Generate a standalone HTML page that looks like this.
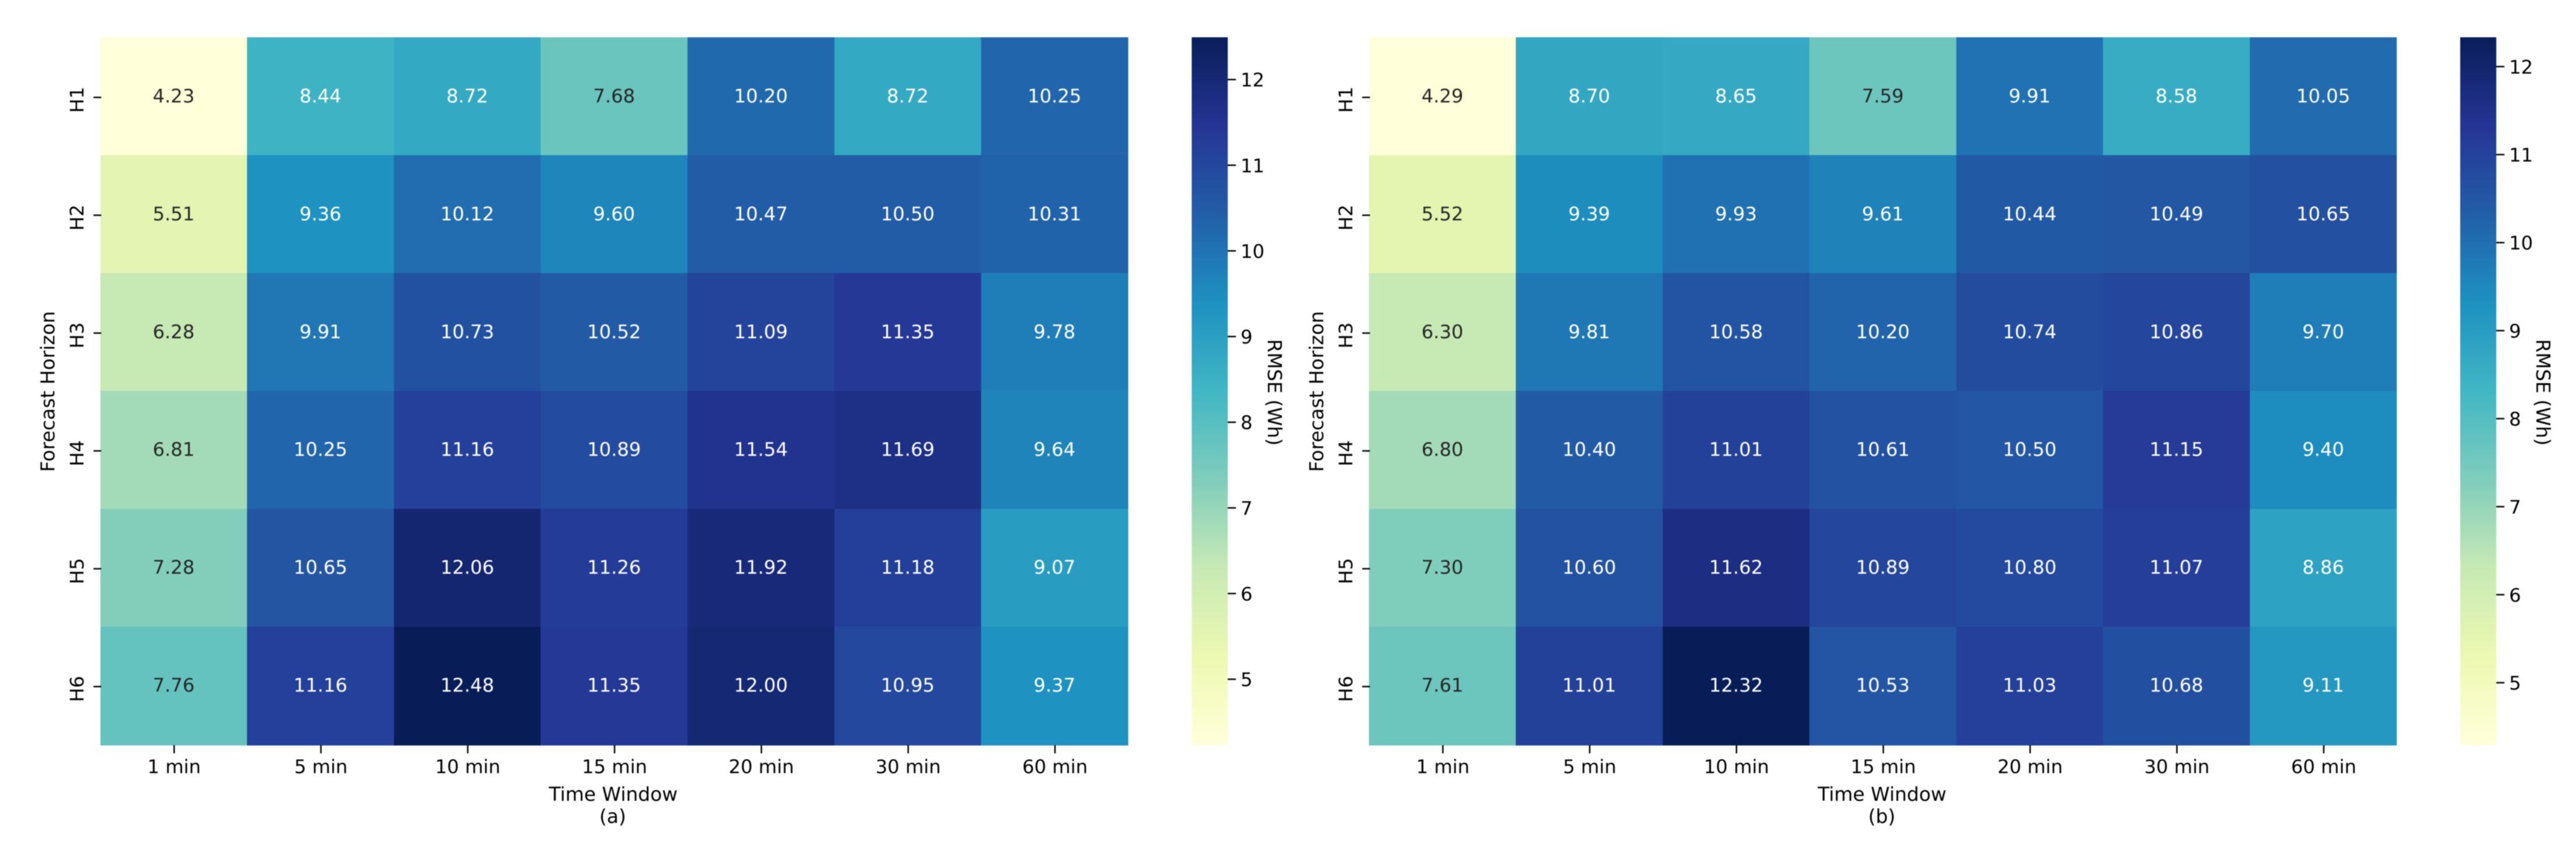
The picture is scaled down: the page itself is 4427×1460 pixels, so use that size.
<!DOCTYPE html>
<html lang="en">
<head>
<meta charset="utf-8">
<title>RMSE heatmaps by forecast horizon and time window</title>
<style>
html,body{margin:0;padding:0;background:#fff;}
svg{display:block;filter:blur(.7px);}
text{font-family:"DejaVu Sans","Liberation Sans",sans-serif;font-size:32.3px;fill:#000;}
text.axis-title{font-size:33px;}
</style>
</head>
<body>
<svg id="chart" xmlns="http://www.w3.org/2000/svg" width="4427" height="1460" viewBox="0 0 4427 1460">
<defs>
<linearGradient id="ylgnbu" x1="0" y1="1" x2="0" y2="0">
<stop offset="0" stop-color="#ffffd9"/><stop offset=".125" stop-color="#edf8b1"/><stop offset=".25" stop-color="#c7e9b4"/><stop offset=".375" stop-color="#7fcdbb"/><stop offset=".5" stop-color="#41b6c4"/><stop offset=".625" stop-color="#1d91c0"/><stop offset=".75" stop-color="#225ea8"/><stop offset=".875" stop-color="#253494"/><stop offset="1" stop-color="#081d58"/>
</linearGradient>
</defs>
<rect x="0" y="0" width="4427" height="1460" fill="#fff"/>
<g id="panel-a">
<rect x="2048" y="64" width="62" height="1216" fill="url(#ylgnbu)"/>
<text class="axis-title" x="93.3" y="672.5" text-anchor="middle" transform="rotate(-90 93.3 672.5)">Forecast Horizon</text>
<text class="axis-title" x="1054" y="1375.5" text-anchor="middle">Time Window</text>
<text class="axis-title" x="1053" y="1413.5" text-anchor="middle">(a)</text>
<text class="axis-title" x="2179" y="674" text-anchor="middle" transform="rotate(90 2179 674)">RMSE (Wh)</text>
</g>
<g id="panel-b">
<rect x="4228" y="64" width="62" height="1216" fill="url(#ylgnbu)"/>
<text class="axis-title" x="2274" y="672.5" text-anchor="middle" transform="rotate(-90 2274 672.5)">Forecast Horizon</text>
<text class="axis-title" x="3234.5" y="1375.5" text-anchor="middle">Time Window</text>
<text class="axis-title" x="3234" y="1413.5" text-anchor="middle">(b)</text>
<text class="axis-title" x="4359" y="674" text-anchor="middle" transform="rotate(90 4359 674)">RMSE (Wh)</text>
</g>
</svg>
<script>
const timeWindows = ["1 min", "5 min", "10 min", "15 min", "20 min", "30 min", "60 min"];
const horizons = ["H1", "H2", "H3", "H4", "H5", "H6"];
const colorbarTicks = [5, 6, 7, 8, 9, 10, 11, 12];
const rmseA = [
  [4.23, 8.44, 8.72, 7.68, 10.20, 8.72, 10.25],
  [5.51, 9.36, 10.12, 9.60, 10.47, 10.50, 10.31],
  [6.28, 9.91, 10.73, 10.52, 11.09, 11.35, 9.78],
  [6.81, 10.25, 11.16, 10.89, 11.54, 11.69, 9.64],
  [7.28, 10.65, 12.06, 11.26, 11.92, 11.18, 9.07],
  [7.76, 11.16, 12.48, 11.35, 12.00, 10.95, 9.37]
];
const rmseB = [
  [4.29, 8.70, 8.65, 7.59, 9.91, 8.58, 10.05],
  [5.52, 9.39, 9.93, 9.61, 10.44, 10.49, 10.65],
  [6.30, 9.81, 10.58, 10.20, 10.74, 10.86, 9.70],
  [6.80, 10.40, 11.01, 10.61, 10.50, 11.15, 9.40],
  [7.30, 10.60, 11.62, 10.89, 10.80, 11.07, 8.86],
  [7.61, 11.01, 12.32, 10.53, 11.03, 10.68, 9.11]
];

const SVG_NS = "http://www.w3.org/2000/svg";
const CMAP = [[255,255,217],[237,248,177],[199,233,180],[127,205,187],[65,182,196],[29,145,192],[34,94,168],[37,52,148],[8,29,88]];

function mapColor(t) {
  const p = Math.min(Math.max(t, 0), 1) * (CMAP.length - 1);
  const i = Math.min(Math.floor(p), CMAP.length - 2);
  const f = p - i;
  return CMAP[i].map(function (c, k) { return Math.round(c + (CMAP[i + 1][k] - c) * f); });
}
function luminance(rgb) {
  const lin = rgb.map(function (c) {
    const v = c / 255;
    return v <= 0.03928 ? v / 12.92 : Math.pow((v + 0.055) / 1.055, 2.4);
  });
  return 0.2126 * lin[0] + 0.7152 * lin[1] + 0.0722 * lin[2];
}
function make(tag, attrs, parent) {
  const node = document.createElementNS(SVG_NS, tag);
  Object.keys(attrs).forEach(function (k) { node.setAttribute(k, attrs[k]); });
  parent.appendChild(node);
  return node;
}

function drawPanel(parent, values, left, barRight) {
  const flat = values.reduce(function (a, r) { return a.concat(r); }, []);
  const vmin = Math.min.apply(null, flat);
  const vmax = Math.max.apply(null, flat);
  const colStep = 252.3, rowStep = 202.4, top = 64.3, bottom = 1280;
  const xEdge = function (c) { return left + colStep * c; };
  const yEdge = function (r) { return r >= horizons.length ? bottom : (r === 0 ? 64 : top + rowStep * r); };
  const xCenter = function (c) { return xEdge(c) + colStep / 2; };
  const yTick = function (r) { return 167.3 + rowStep * r; };
  const yBar = function (v) { return bottom - (v - vmin) / (vmax - vmin) * 1214; };

  values.forEach(function (row, r) {
    row.forEach(function (v, c) {
      const rgb = mapColor((v - vmin) / (vmax - vmin));
      const cell = make("rect", {
        x: xEdge(c), y: yEdge(r), width: colStep + 0.4, height: yEdge(r + 1) - yEdge(r) + 0.4,
        fill: "rgb(" + rgb.join(",") + ")", "shape-rendering": "crispEdges"
      }, parent);
      
      
      const label = make("text", {
        x: xCenter(c), y: 176 + rowStep * r, "text-anchor": "middle",
        style: "fill:" + (luminance(rgb) > 0.408 ? "#262626" : "#ffffff")
      }, parent);
      
      
      label.textContent = v.toFixed(2);
    });
  });

  timeWindows.forEach(function (name, c) {
    const x = xCenter(c) + 0.8;
    const tick = make("line", { x1: x, x2: x, y1: bottom, y2: bottom + 14, stroke: "#000", "stroke-width": 2.5 }, parent);
    
    
    const label = make("text", { x: x, y: 1328, "text-anchor": "middle" }, parent);
    
    
    label.textContent = name;
  });

  horizons.forEach(function (name, r) {
    const y = yTick(r);
    const tick = make("line", { x1: left - 11.7, x2: left + 1.7, y1: y, y2: y, stroke: "#000", "stroke-width": 2.5 }, parent);
    
    
    const tx = left - 28.7, ty = y + 4;
    const label = make("text", { x: tx, y: ty, "text-anchor": "middle", transform: "rotate(-90 " + tx + " " + ty + ")" }, parent);
    
    
    label.textContent = name;
  });

  colorbarTicks.forEach(function (v) {
    const y = yBar(v);
    const tick = make("line", { x1: barRight, x2: barRight + 14, y1: y, y2: y, stroke: "#000", "stroke-width": 2.5 }, parent);
    
    
    const label = make("text", { x: barRight + 22, y: y + 12 }, parent);
    
    
    label.textContent = String(v);
  });
}

drawPanel(document.getElementById("panel-a"), rmseA, 172.3, 2110);
drawPanel(document.getElementById("panel-b"), rmseB, 2352.7, 4290);
</script>
</body>
</html>
